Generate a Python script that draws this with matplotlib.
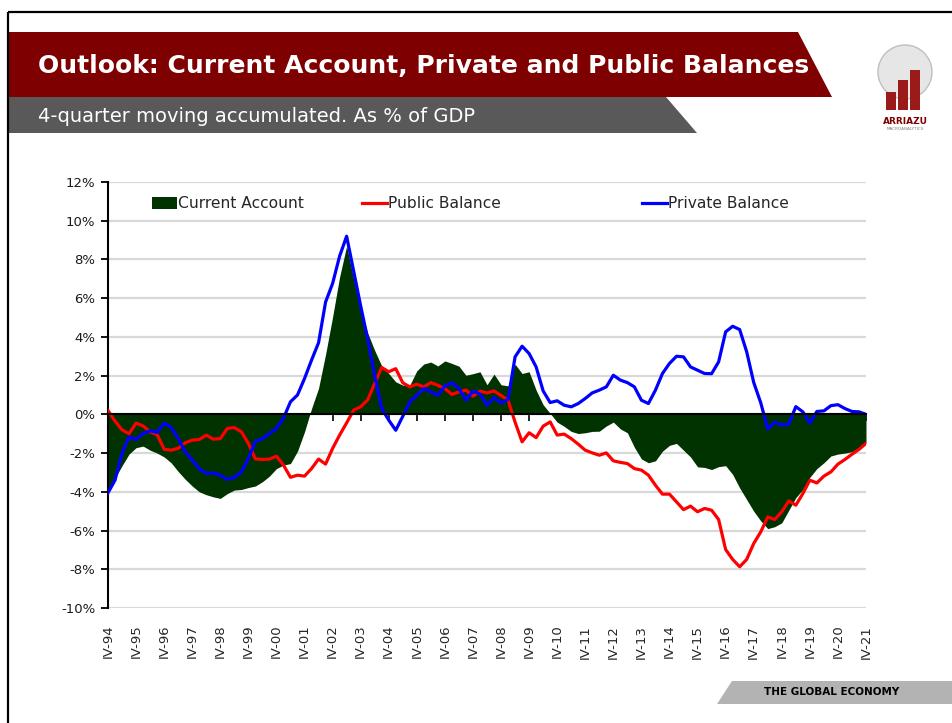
import matplotlib
matplotlib.use('Agg')
import matplotlib.pyplot as plt
import numpy as np
from matplotlib.patches import Polygon, Circle, Rectangle, Patch
from matplotlib.lines import Line2D
from matplotlib.legend import Legend

# ---------------- data ----------------
years = ['94', '95', '96', '97', '98', '99', '00', '01', '02', '03', '04', '05', '06', '07',
         '08', '09', '10', '11', '12', '13', '14', '15', '16', '17', '18', '19', '20', '21']
tick_labels = ['IV-' + y for y in years]

public_balance = [
    0.2, -0.35, -0.8, -1.0, -0.45, -0.6, -0.9, -1.05, -1.8, -1.85,
    -1.75, -1.47, -1.33, -1.3, -1.07, -1.28, -1.25, -0.73, -0.68, -0.9,
    -1.5, -2.3, -2.33, -2.31, -2.16, -2.62, -3.25, -3.14, -3.19, -2.8,
    -2.31, -2.57, -1.76, -1.07, -0.44, 0.22, 0.39, 0.75, 1.6, 2.42,
    2.2, 2.36, 1.63, 1.42, 1.56, 1.42, 1.64, 1.5, 1.33, 1.03,
    1.16, 1.25, 0.94, 1.2, 1.11, 1.21, 0.97, 0.73, -0.4, -1.42,
    -0.95, -1.2, -0.61, -0.39, -1.07, -1.02, -1.25, -1.54, -1.85, -1.99,
    -2.11, -1.99, -2.4, -2.48, -2.54, -2.8, -2.88, -3.14, -3.66, -4.12,
    -4.12, -4.52, -4.92, -4.74, -5.03, -4.86, -4.95, -5.43, -6.98, -7.49,
    -7.87, -7.49, -6.67, -6.07, -5.3, -5.43, -5.03, -4.47, -4.69, -4.09,
    -3.4, -3.54, -3.19, -2.97, -2.57, -2.33, -2.06, -1.81, -1.5]

private_balance = [
    -4.05, -3.4, -2.0, -1.16, -1.3, -0.99, -0.85, -0.93, -0.45, -0.68,
    -1.25, -1.93, -2.36, -2.8, -3.05, -3.03, -3.14, -3.36, -3.26, -2.97,
    -2.28, -1.4, -1.25, -0.99, -0.73, -0.2, 0.65, 1.0, 1.85, 2.8,
    3.7, 5.8, 6.76, 8.17, 9.2, 7.4, 5.6, 3.9, 2.0, 0.3,
    -0.3, -0.82, -0.1, 0.65, 0.99, 1.34, 1.16, 0.99, 1.47, 1.63,
    1.34, 0.73, 1.21, 1.05, 0.47, 0.87, 0.59, 0.77, 2.97, 3.52,
    3.14, 2.45, 1.21, 0.61, 0.7, 0.47, 0.39, 0.56, 0.82, 1.11,
    1.25, 1.42, 2.02, 1.77, 1.64, 1.42, 0.73, 0.56, 1.25, 2.11,
    2.63, 3.0, 2.97, 2.45, 2.28, 2.11, 2.1, 2.71, 4.26, 4.55,
    4.38, 3.23, 1.65, 0.6, -0.75, -0.4, -0.55, -0.5, 0.4, 0.13,
    -0.45, 0.15, 0.18, 0.45, 0.5, 0.3, 0.15, 0.13, 0.0]

current_account = [
    -3.85, -3.3, -2.65, -2.05, -1.72, -1.64, -1.85, -2.0, -2.2, -2.5,
    -2.95, -3.35, -3.7, -4.0, -4.15, -4.26, -4.34, -4.09, -3.91, -3.88,
    -3.78, -3.7, -3.48, -3.19, -2.8, -2.62, -2.54, -1.9, -0.9, 0.3,
    1.35, 3.1, 5.03, 7.1, 8.7, 7.0, 5.4, 4.2, 3.3, 2.5,
    2.11, 1.68, 1.51, 1.51, 2.25, 2.6, 2.7, 2.5, 2.76, 2.63,
    2.49, 2.02, 2.1, 2.2, 1.53, 2.08, 1.53, 1.47, 2.59, 2.11,
    2.2, 1.25, 0.5, 0.05, -0.4, -0.62, -0.88, -0.99, -0.95, -0.88,
    -0.87, -0.6, -0.4, -0.75, -0.95, -1.7, -2.3, -2.5, -2.4, -1.9,
    -1.6, -1.5, -1.85, -2.2, -2.71, -2.74, -2.85, -2.7, -2.65, -3.1,
    -3.8, -4.4, -5.0, -5.5, -5.9, -5.8, -5.6, -4.95, -4.3, -3.88,
    -3.25, -2.8, -2.5, -2.15, -2.05, -2.0, -1.93, -1.76, -1.5]

y_ticks = [-10, -8, -6, -4, -2, 0, 2, 4, 6, 8, 10, 12]

title = 'Outlook: Current Account, Private and Public Balances'
subtitle = '4-quarter moving accumulated. As % of GDP'

# ---------------- figure ----------------
W, H = 953, 723
fig = plt.figure(figsize=(W / 100, H / 100), dpi=100)
fig.patch.set_facecolor('white')

bg = fig.add_axes([0, 0, 1, 1])
bg.set_xlim(0, W)
bg.set_ylim(H, 0)
bg.axis('off')

# frame lines
bg.plot([8, 8], [12, H], color='black', lw=1.6, solid_capstyle='butt')
bg.plot([8, W], [12, 12], color='black', lw=1.6, solid_capstyle='butt')

# banners
bg.add_patch(Polygon([[9, 32], [798, 32], [832, 97], [9, 97]], closed=True,
                     facecolor='#7f0000', edgecolor='none'))
bg.add_patch(Polygon([[9, 97], [666, 97], [697, 133], [9, 133]], closed=True,
                     facecolor='#595959', edgecolor='none'))
bg.text(38, 66, title, color='white', fontsize=18, fontweight='bold',
        va='center', ha='left', family='DejaVu Sans')
bg.text(38, 116, subtitle, color='white', fontsize=14, va='center', ha='left',
        family='DejaVu Sans')

# logo (simplified)
bg.add_patch(Circle((905, 72), 27, facecolor='#e6e6e6', edgecolor='#bfbfbf', lw=1))
for x0, top in [(886, 92), (898, 80), (910, 70)]:
    bg.add_patch(Rectangle((x0, top), 10, 110 - top, facecolor='#9b1b1b', edgecolor='none'))
bg.text(905, 121, 'ARRIAZU', fontsize=6.5, fontweight='bold', color='#7f0000',
        ha='center', va='center')
bg.text(905, 129, 'MACROANALYTICS', fontsize=3, color='#808080', ha='center', va='center')

# footer
bg.add_patch(Polygon([[732, 681], [W, 681], [W, 704], [717, 704]], closed=True,
                     facecolor='#b3b3b3', edgecolor='none'))
bg.text(832, 692, 'THE GLOBAL ECONOMY', fontsize=7.5, fontweight='bold',
        color='black', ha='center', va='center')

# ---------------- chart ----------------
ax_left, ax_right, ax_top, ax_bottom = 108, 866, 182, 608
ax = fig.add_axes([ax_left / W, 1 - ax_bottom / H, (ax_right - ax_left) / W,
                   (ax_bottom - ax_top) / H])
ax.set_facecolor('none')

x = np.arange(len(public_balance))
ax.fill_between(x, current_account, 0, color='#003300', lw=0, zorder=2)
ax.plot(x, public_balance, color='#ff0000', lw=2.3, zorder=3, solid_joinstyle='round')
ax.plot(x, private_balance, color='#0000ff', lw=2.3, zorder=4, solid_joinstyle='round')

ax.set_xlim(0, len(public_balance) - 1)
ax.set_ylim(-10, 12)
ax.set_yticks(y_ticks)
ax.set_yticklabels([f'{v}%' for v in y_ticks], fontsize=9.5, color='#1a1a1a')
ax.grid(axis='y', color='#d9d9d9', lw=1.6)
ax.set_axisbelow(True)

for s in ['top', 'right']:
    ax.spines[s].set_visible(False)
ax.spines['left'].set_color('black')
ax.spines['left'].set_linewidth(1.5)
ax.spines['bottom'].set_position(('data', 0))
ax.spines['bottom'].set_color('black')
ax.spines['bottom'].set_linewidth(1.5)
ax.spines['bottom'].set_zorder(5)
ax.tick_params(axis='y', direction='out', length=5, width=1.3, pad=4)
ax.set_xticks(np.arange(0, len(public_balance), 4))
ax.tick_params(axis='x', direction='out', length=5, width=1.2, labelbottom=False)

sec = ax.secondary_xaxis('bottom')
sec.set_xticks(np.arange(0, len(public_balance), 4))
sec.set_xticklabels(tick_labels, rotation=90, fontsize=9.5, color='#262626')
sec.spines['bottom'].set_visible(False)
sec.tick_params(axis='x', length=0, pad=12)

# legends
entries = [
    (Patch(facecolor='#003300', edgecolor='none'), 'Current Account', 152),
    (Line2D([], [], color='#ff0000', lw=2.3), 'Public Balance', 362),
    (Line2D([], [], color='#0000ff', lw=2.3), 'Private Balance', 642),
]
leg_y = (ax_bottom - 204) / (ax_bottom - ax_top)
for handle, label, px in entries:
    lg = Legend(ax, [handle], [label], loc='center left',
                bbox_to_anchor=((px - ax_left) / (ax_right - ax_left), leg_y),
                frameon=False, fontsize=11.2, handlelength=1.6, handleheight=0.8,
                handletextpad=0.1, borderpad=0, borderaxespad=0,
                labelcolor='#262626')
    ax.add_artist(lg)

fig.savefig('out.png', dpi=100)
